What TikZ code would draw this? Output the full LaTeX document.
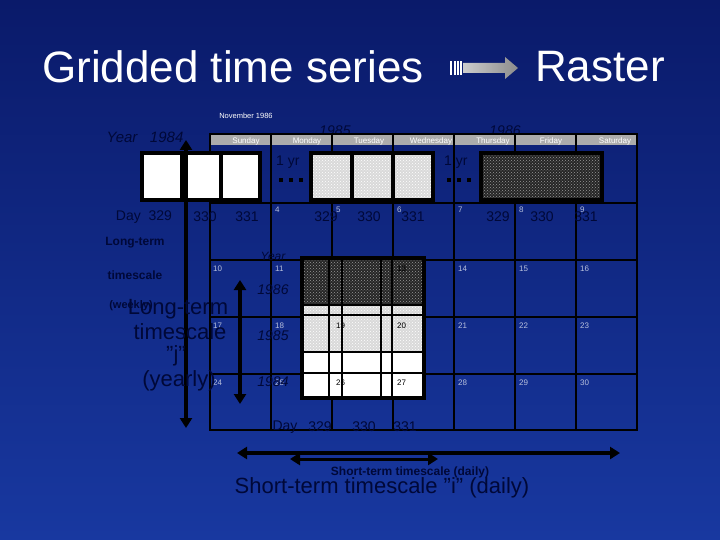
\documentclass[tikz,border=0pt]{standalone}
\usepackage{fontspec}
\setmainfont{Liberation Sans}
\usetikzlibrary{patterns,arrows.meta}
\definecolor{bgtop}{HTML}{0A1A6A}
\definecolor{bgbot}{HTML}{1838A0}
\definecolor{ink}{HTML}{000838}
\definecolor{numc}{HTML}{B8C0DC}
\begin{document}
\begin{tikzpicture}[x=1pt,y=-1pt,
  txt/.style={inner sep=0pt,anchor=center},
  num/.style={txt,font=\fontsize{8}{8}\selectfont,text=numc,anchor=north west},
  grid/.style={draw=black,line width=2pt},
  rbox/.style={draw=black,line width=4pt},
  lite/.style={fill=gray!30,postaction={pattern=crosshatch dots,pattern color=white}},
  dark/.style={fill=black!85,postaction={pattern=crosshatch dots,pattern color=gray!80}},
  dbl/.style={line width=4pt,black,{Triangle[length=10pt,width=12pt]}-{Triangle[length=10pt,width=12pt]}},
  big/.style={txt,font=\fontsize{22}{22}\selectfont,text=ink},
  smb/.style={txt,font=\bfseries\fontsize{12}{12}\selectfont,text=ink},
  gtxt/.style={txt,font=\fontsize{14}{14}\selectfont,text=ink}]
\shade[top color=bgtop,bottom color=bgbot] (0,0) rectangle (720,540);
\useasboundingbox (0,0) rectangle (720,540);
% title
\node[txt,white,font=\fontsize{44}{44}\selectfont] (t1) at (233,67) {Gridded time series};
\node[txt,white,font=\fontsize{44}{44}\selectfont] (t2) at (600,67) {Raster};
\shade[left color=gray!40,right color=gray!90] (463,63) -- (505,63) -- (505,57) -- (518,68) -- (505,79) -- (505,73) -- (463,73) -- cycle;
\foreach \xx in {450,453.5,457,460}{\fill[white] (\xx,61) rectangle +(2,14);}
% background years
\node[txt,ink,font=\itshape\fontsize{14}{14}\selectfont] (y85) at (335,131) {1985};
\node[txt,ink,font=\itshape\fontsize{14}{14}\selectfont] (y86) at (505,131) {1986};
% calendar
\node[txt,white,font=\fontsize{7.5}{7.5}\selectfont] (nov) at (246,116) {November 1986};
\fill[gray!65] (210,134) rectangle (637,145);
\foreach \d/\x in {Sunday/246,Monday/307,Tuesday/369,Wednesday/431,Thursday/493,Friday/551,Saturday/615}
  \node[txt,white,font=\fontsize{8}{8}\selectfont] at (\x,141) {\d};
\draw[grid] (210,134) rectangle (637,430);
\foreach \x in {271,332,393,454,515,576} \draw[grid] (\x,134) -- (\x,430);
\foreach \y in {203,260,317,374} \draw[grid] (210,\y) -- (637,\y);
% numbers
\foreach \n/\x/\y in {4/275/207,5/336/207,6/397/207,7/458/207,8/519/207,9/580/207,
  10/213/266,11/275/266,14/458/266,15/519/266,16/580/266,
  17/213/323,18/275/323,21/458/323,22/519/323,23/580/323,
  24/213/380,25/275/380,28/458/380,29/519/380,30/580/380}
  \node[num] at (\x,\y) {\n};
% top raster row
\fill[white] (142,153) rectangle (260,200);
\draw[rbox] (142,153) rectangle (260,200);
\draw[rbox] (182,153) -- (182,200); \draw[rbox] (221,153) -- (221,200);
\fill[lite] (311,153) rectangle (433,200);
\draw[rbox] (311,153) rectangle (433,200);
\draw[rbox] (352,153) -- (352,200); \draw[rbox] (393,153) -- (393,200);
\fill[dark] (481,153) rectangle (602,200);
\draw[rbox] (481,153) rectangle (602,200);
\node[gtxt,anchor=west] (yr1) at (276,162) {1 yr};
\foreach \xx in {279,289,299} \fill[black] (\xx,178) rectangle +(4,4);
\node[gtxt,anchor=west] (yr2) at (444,162) {1 yr};
\foreach \xx in {447,457,467} \fill[black] (\xx,178) rectangle +(4,4);
\foreach \t/\x in {Day~~329/144,330/205,331/247,329/326,330/369,331/413,329/498,330/542,331/586}
  \node[gtxt] at (\x,217) {\t};
\node[txt,ink,font=\itshape\fontsize{15}{15}\selectfont] (yr84) at (145,137) {Year~~~1984};
% middle raster block
\fill[dark] (302,258) rectangle (424,305);
\fill[lite] (302,305) rectangle (424,352);
\fill[white] (302,352) rectangle (424,398);
\draw[rbox] (302,258) rectangle (424,398);
\foreach \y in {305,315,352,373} \draw[black,line width=2pt] (302,\y) -- (424,\y);
\foreach \x in {329,342,381,392} \draw[black,line width=2pt] (\x,258) -- (\x,398);
\foreach \n/\x/\y in {13/397/266,19/336/323,20/397/323,26/336/380,27/397/380}
  \node[num,text=black] at (\x,\y) {\n};
\node[txt,ink,font=\itshape\fontsize{12}{12}\selectfont] (yr) at (273,256) {Year};
\foreach \t/\y in {1986/290,1985/336,1984/382}
  \node[txt,ink,font=\itshape\fontsize{14}{14}\selectfont] at (273,\y) {\t};
\foreach \t/\x in {Day/285,329/320,330/364,331/405}
  \node[gtxt] at (\x,427) {\t};
% vertical arrows
\coordinate (va1) at (186,140); \coordinate (vb1) at (186,428);
\draw[dbl] (va1) -- (vb1);
\coordinate (va2) at (240,280); \coordinate (vb2) at (240,404);
\draw[dbl] (va2) -- (vb2);
% left texts
\node[smb] (lt1) at (135,243) {Long-term};
\node[smb] (lt2) at (135,275) {timescale};
\node[txt,ink,font=\bfseries\fontsize{11}{11}\selectfont] (lt3) at (131,306) {(weekly)};
\node[big] (L1) at (178,309) {Long-term};
\node[big] (L2) at (180,332) {timescale};
\node[big] (L3) at (176,356) {"j"};
\node[big] (L4) at (179,381) {(yearly)};
% bottom arrows
\coordinate (ha1) at (237,453); \coordinate (hb1) at (620,453);
\draw[dbl] (ha1) -- (hb1);
\coordinate (ha2) at (290,459); \coordinate (hb2) at (438,459);
\draw[dbl,line width=3pt] (ha2) -- (hb2);
\node[smb] (s1) at (410,472) {Short-term timescale (daily)};
\node[big] (s2) at (382,488) {Short-term timescale "i" (daily)};
\end{tikzpicture}
\end{document}
